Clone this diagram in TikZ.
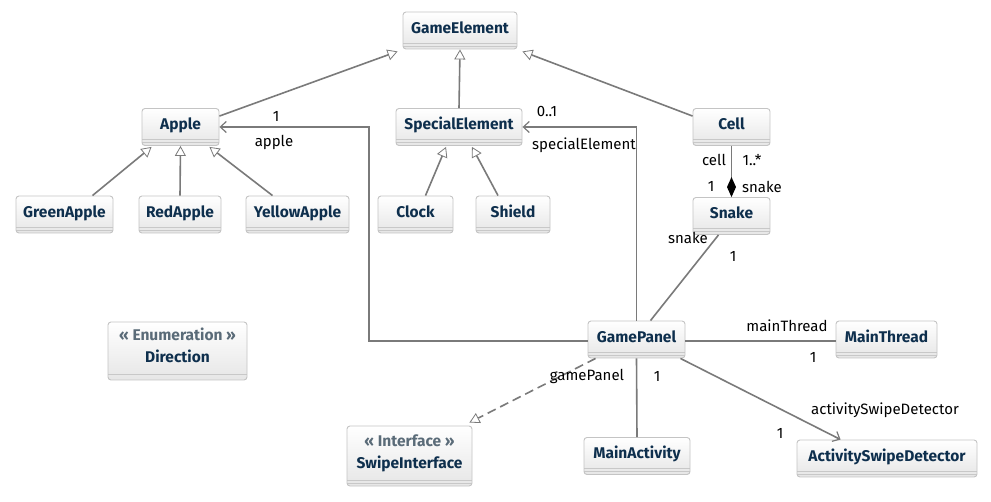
\documentclass[tikz,border=0pt]{standalone}
\usepackage{fontspec}
\setmainfont{Fira Sans}
\usetikzlibrary{arrows.meta,calc}
\definecolor{boxborder}{HTML}{C4C4C4}
\definecolor{boxbot}{HTML}{E6E6E6}
\definecolor{boxline}{HTML}{C8C8C8}
\definecolor{clsname}{HTML}{0E2F4D}
\definecolor{stereo}{HTML}{5A6B78}
\definecolor{edge}{HTML}{7A7A7A}
\tikzset{
  cls/.style={draw=boxborder, line width=0.9pt, rounded corners=3pt,
    top color=white, bottom color=boxbot, minimum height=37pt, inner sep=0pt,
    font=\fontsize{15.5}{19}\selectfont\bfseries, text=clsname, align=center,
    path picture={
      \draw[boxline,line width=0.8pt] ([yshift=6pt]path picture bounding box.south west) -- ([yshift=6pt]path picture bounding box.south east);
      \draw[boxline,line width=0.8pt] ([yshift=3pt]path picture bounding box.south west) -- ([yshift=3pt]path picture bounding box.south east);
    }},
  enumbox/.style={cls, minimum height=58pt,
    path picture={
      \draw[boxline,line width=0.8pt] ([yshift=6pt]path picture bounding box.south west) -- ([yshift=6pt]path picture bounding box.south east);
    }},
  ifbox/.style={cls, minimum height=60pt},
  edgeline/.style={draw=edge, line width=1.6pt},
  gen/.style={edgeline, -{Triangle[open,length=10pt,width=11pt,line width=0.8pt,fill=white]}},
  real/.style={gen, dash pattern=on 9pt off 5pt},
  assoc/.style={edgeline, -{Straight Barb[length=6pt,width=11pt,line width=1.2pt]}},
  comp/.style={edgeline, -{Diamond[length=20pt,width=9pt,fill=black,color=black]}},
  lab/.style={font=\fontsize{15}{17}\selectfont, text=black, inner sep=0pt},
}
\newcommand{\clsname}[1]{\raisebox{0pt}[6pt][0pt]{#1}}
\newcommand{\stereobox}[3]{\raisebox{0pt}[#3][0pt]{\begin{tabular}[b]{@{}c@{}}{\color{stereo}#1}\\[2.5pt]#2\end{tabular}}}
\begin{document}
\begin{tikzpicture}[x=1pt,y=-1pt]
\useasboundingbox[fill=white] (0,0) rectangle (991,502);
% classes
\node[cls, minimum width=114pt] (GameElement) at (460,30.5) {\clsname{GameElement}};
\node[cls, minimum width=77pt] (Apple) at (180.5,127) {\clsname{Apple}};
\node[cls, minimum width=126pt] (SpecialElement) at (459,127) {\clsname{SpecialElement}};
\node[cls, minimum width=77pt] (Cell) at (731.5,127) {\clsname{Cell}};
\node[cls, minimum width=97pt] (GreenApple) at (64.5,214.5) {\clsname{GreenApple}};
\node[cls, minimum width=82pt] (RedApple) at (180,214.5) {\clsname{RedApple}};
\node[cls, minimum width=103pt] (YellowApple) at (297.5,214.5) {\clsname{YellowApple}};
\node[cls, minimum width=75pt] (Clock) at (415.5,214.5) {\clsname{Clock}};
\node[cls, minimum width=74pt] (Shield) at (513,214.5) {\clsname{Shield}};
\node[cls, minimum width=77pt] (Snake) at (731.5,216) {\clsname{Snake}};
\node[enumbox, minimum width=139pt] (Direction) at (177.5,351) {\stereobox{« Enumeration »}{Direction}{23pt}};
\node[cls, minimum width=97pt] (GamePanel) at (636.5,339.5) {\clsname{GamePanel}};
\node[cls, minimum width=101pt] (MainThread) at (886.5,339.5) {\clsname{MainThread}};
\node[ifbox, minimum width=125pt] (SwipeInterface) at (409.5,456) {\stereobox{« Interface »}{SwipeInterface}{25pt}};
\node[cls, minimum width=106pt] (MainActivity) at (637,456) {\clsname{MainActivity}};
\node[cls, minimum width=180pt] (ActivitySwipeDetector) at (887,458.5) {\clsname{ActivitySwipeDetector}};
% generalizations
\draw[gen] ($(Apple.north east)+(0,8)$) -- ($(GameElement.south west)+(-5,2)$);
\draw[gen] (SpecialElement.north) -- (GameElement.south);
\draw[gen] ($(Cell.north west)+(0,8)$) -- ($(GameElement.south east)+(5,2)$);
\draw[gen] ($(GreenApple.north)+(28,0)$) -- ($(Apple.south west)+(10,1)$);
\draw[gen] (RedApple.north) -- (Apple.south);
\draw[gen] ($(YellowApple.north)+(-25,0)$) -- ($(Apple.south east)+(-10,1)$);
\draw[gen] ($(Clock.north)+(10,0)$) -- ($(SpecialElement.south)+(-13,1)$);
\draw[gen] ($(Shield.north)+(-15,0)$) -- ($(SpecialElement.south)+(13,1)$);
% realization
\draw[real] ($(GamePanel.south west)+(8,0)$) -- ($(SwipeInterface.north east)+(-3,-3)$);
% composition
\draw[comp] (Cell.south) -- (Snake.north);
% associations
\coordinate (bendA) at (369,341);
\draw[assoc] ($(GamePanel.west)+(0,1.5)$) -- (bendA) |- (Apple.east);
\draw[assoc] (GamePanel.north) |- (SpecialElement.east);
\draw[edgeline] ($(Snake.south)+(-13,0)$) -- ($(GamePanel.north)+(14,0)$);
\draw[edgeline] ($(GamePanel.east)+(0,1.5)$) -- ($(MainThread.west)+(0,1.5)$);
\draw[edgeline] (GamePanel.south) -- (MainActivity.north);
\draw[assoc] ($(GamePanel.south east)+(-5,0)$) -- ($(ActivitySwipeDetector.north west)+(44,0)$);
% labels
\node[lab] (l1) at (276,116) {1};
\node[lab] (l2) at (274,142) {apple};
\node[lab] (l3) at (547,112) {0..1};
\node[lab] (l4) at (584,145) {specialElement};
\node[lab] (l5) at (714,160) {cell};
\node[lab] (l6) at (752,160) {1..*};
\node[lab] (l7) at (711,186) {1};
\node[lab] (l8) at (762,187) {snake};
\node[lab] (l9) at (688,238) {snake};
\node[lab] (l10) at (733,256) {1};
\node[lab] (l11) at (787,326) {mainThread};
\node[lab] (l12) at (813,357) {1};
\node[lab] (l13) at (587,376) {gamePanel};
\node[lab] (l14) at (657,376) {1};
\node[lab] (l15) at (885,410) {activitySwipeDetector};
\node[lab] (l16) at (780,433) {1};
\end{tikzpicture}
\end{document}
